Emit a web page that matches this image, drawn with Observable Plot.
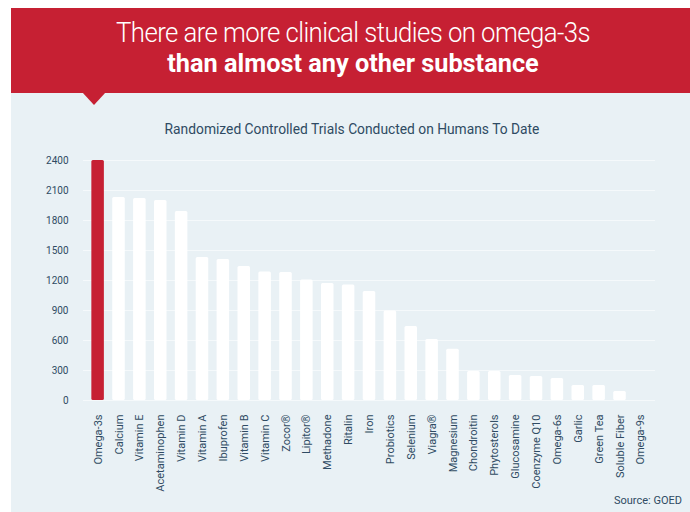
<!DOCTYPE html>
<html>
<head>
<meta charset="utf-8">
<script src="https://cdn.jsdelivr.net/npm/d3@7"></script>
<script src="https://cdn.jsdelivr.net/npm/@observablehq/plot@0.6"></script>
<style>
  html, body { margin: 0; padding: 0; background: #ffffff; }
  #page { position: relative; width: 690px; height: 512px; overflow: hidden; font-family: Roboto, sans-serif; }
  #panel { position: absolute; left: 11px; top: 92px; width: 679px; height: 420px; background: #e9f1f5; }
  #banner { position: absolute; left: 11px; top: 8px; width: 679px; height: 85px; background: #c62033; }
  #notch { position: absolute; left: 82px; top: 92px; width: 0; height: 0;
           border-left: 12px solid transparent; border-right: 12px solid transparent; border-top: 13px solid #c62033; }
  .t1 { position: absolute; left: 0; width: 706px; text-align: center; color: #fff; white-space: nowrap; }
  #title1 { top: 17px; font-size: 27px; font-weight: 300; letter-spacing: -0.6px; transform: scaleX(0.954); }
  #title2 { top: 49px; font-size: 25.3px; font-weight: 700; letter-spacing: 0px; }
  #sub { position: absolute; left: 0; width: 704px; top: 120px; text-align: center; font-size: 15px; color: #2f4b63; white-space: nowrap; transform: scaleX(0.92); }
  #source { position: absolute; right: 8px; top: 494px; font-size: 11px; color: #2f4b63; }
  #chart { position: absolute; left: 0; top: 0; }
</style>
</head>
<body>
<div id="page">
  <div id="panel"></div>
  <div id="banner"></div>
  <div id="notch"></div>
  <div id="title1" class="t1">There are more clinical studies on omega-3s</div>
  <div id="title2" class="t1">than almost any other substance</div>
  <div id="sub">Randomized Controlled Trials Conducted on Humans To Date</div>
  <div id="source">Source: GOED</div>
  <div id="chart"></div>
</div>
<script>
const categories = ["Omega-3s","Calcium","Vitamin E","Acetaminophen","Vitamin D","Vitamin A","Ibuprofen","Vitamin B","Vitamin C","Zocor®","Lipitor®","Methadone","Ritalin","Iron","Probiotics","Selenium","Viagra®","Magnesium","Chondroitin","Phytosterols","Glucosamine","Coenzyme Q10","Omega-6s","Garlic","Green Tea","Soluble Fiber","Omega-9s"];
const trials = [2400,2030,2020,2000,1890,1430,1410,1340,1285,1280,1205,1170,1155,1090,895,740,610,513,290,290,250,240,220,150,150,90,0];
const yTicks = [0,300,600,900,1200,1500,1800,2100,2400];
const highlight = "Omega-3s";

const data = categories.map((c, i) => ({name: c, value: trials[i]}));

const chart = Plot.plot({
  width: 690,
  height: 512,
  marginLeft: 83,
  marginRight: 35,
  marginTop: 160,
  marginBottom: 112,
  style: {fontFamily: "Roboto, sans-serif", fontSize: "10px", color: "#2f4b63", background: "transparent"},
  x: {type: "band", domain: categories, padding: 0.4, round: false, label: null},
  y: {domain: [0, 2400], label: null},
  marks: [
    Plot.ruleY(yTicks, {stroke: "#f5f9fb", strokeWidth: 1}),
    Plot.barY(data.filter(d => d.name !== highlight && d.value > 0), {x: "name", y: "value", fill: "#ffffff", rx: 1.5}),
    Plot.barY(data.filter(d => d.name === highlight), {x: "name", y: "value", fill: "#c62033", rx: 1.5}),
    Plot.axisY({ticks: yTicks, tickSize: 0, tickPadding: 15, tickFormat: d => String(d), fontSize: 10, label: null}),
    Plot.axisX({tickSize: 0, tickPadding: 14, tickRotate: -90, fontSize: 11, label: null})
  ]
});
document.getElementById("chart").appendChild(chart);
</script>
</body>
</html>
